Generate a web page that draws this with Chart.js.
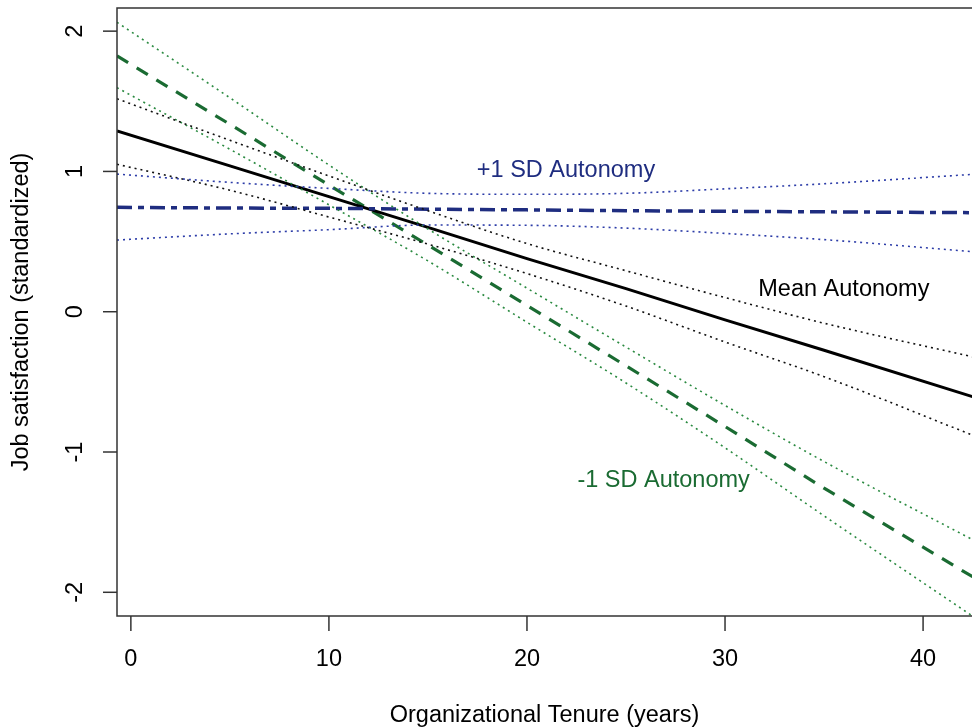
<!DOCTYPE html>
<html>
<head>
<meta charset="utf-8">
<script src="https://cdn.jsdelivr.net/npm/chart.js@4.4.1/dist/chart.umd.min.js"></script>
<style>
  html, body { margin: 0; padding: 0; background: #ffffff; overflow: hidden; }
  #wrap { width: 972px; height: 728px; }
</style>
</head>
<body>
<div id="wrap"><canvas id="c" width="972" height="728"></canvas></div>
<script>
// ---- Data ----
const tenure = [-0.7, 5, 10, 15, 20, 25, 30, 35, 42.5];

const highFit = [0.744, 0.739, 0.737, 0.731, 0.726, 0.720, 0.716, 0.712, 0.706];
const highUp  = [0.981, 0.922, 0.879, 0.844, 0.837, 0.844, 0.876, 0.912, 0.979];
const highLo  = [0.511, 0.555, 0.585, 0.618, 0.616, 0.596, 0.558, 0.514, 0.428];

const meanFit = [1.288, 1.040, 0.820, 0.601, 0.378, 0.165, -0.058, -0.275, -0.606];
const meanUp  = [1.518, 1.222, 0.968, 0.720, 0.486, 0.292, 0.101, -0.082, -0.321];
const meanLo  = [1.051, 0.866, 0.675, 0.482, 0.272, 0.040, -0.216, -0.463, -0.880];

const lowFit = [1.823, 1.336, 0.903, 0.475, 0.045, -0.386, -0.818, -1.258, -1.889];
const lowUp  = [2.063, 1.525, 1.046, 0.590, 0.168, -0.252, -0.668, -1.068, -1.625];
const lowLo  = [1.597, 1.158, 0.762, 0.362, -0.075, -0.508, -0.970, -1.455, -2.170];

const xTicks = [0, 10, 20, 30, 40];
const yTicks = [-2, -1, 0, 1, 2];

const seriesNames = ["+1 SD Autonomy", "Mean Autonomy", "-1 SD Autonomy"];
const xTitle = "Organizational Tenure (years)";
const yTitle = "Job satisfaction (standardized)";

// ---- Styling ----
const BLUE = '#1f2d80';
const GREEN = '#1a6b32';
const BLACK = '#000000';
const FONT = '"Liberation Sans", Arial, Helvetica, sans-serif';
const FS = 23.5;

// annotation anchors (data coordinates) for series labels
const labelAnchors = [
  { text: seriesNames[0], x: 21.97, y: 1.01, color: BLUE },
  { text: seriesNames[1], x: 36.0, y: 0.155, color: BLACK },
  { text: seriesNames[2], x: 26.9, y: -1.2, color: GREEN }
];

function pts(ys) { return tenure.map((x, i) => ({ x: x, y: ys[i] })); }

function bandDs(ys, color) {
  return { data: pts(ys), borderColor: color, borderWidth: 1.6, borderDash: [2, 4],
           pointRadius: 0, fill: false, cubicInterpolationMode: 'monotone' };
}

const datasets = [
  bandDs(highUp, '#2c3ca8'), bandDs(highLo, '#2c3ca8'),
  bandDs(meanUp, '#111111'), bandDs(meanLo, '#111111'),
  bandDs(lowUp, '#2a8a40'), bandDs(lowLo, '#2a8a40'),
  { data: pts(highFit), borderColor: BLUE, borderWidth: 3.5, borderDash: [15, 6, 6, 6],
    pointRadius: 0, fill: false },
  { data: pts(meanFit), borderColor: BLACK, borderWidth: 3, pointRadius: 0, fill: false },
  { data: pts(lowFit), borderColor: GREEN, borderWidth: 3.2, borderDash: [13, 10],
    pointRadius: 0, fill: false }
];

const axesPlugin = {
  id: 'rAxes',
  afterDraw(chart) {
    const ctx = chart.ctx;
    const a = chart.chartArea;
    const xs = chart.scales.x, ys = chart.scales.y;
    ctx.save();
    // box (right side lies outside the picture)
    ctx.strokeStyle = '#333333';
    ctx.lineWidth = 1.5;
    ctx.beginPath();
    ctx.moveTo(a.right + 2, a.top);
    ctx.lineTo(a.left, a.top);
    ctx.lineTo(a.left, a.bottom);
    ctx.lineTo(a.right + 2, a.bottom);
    ctx.stroke();
    // x ticks
    ctx.fillStyle = '#000';
    ctx.font = FS + 'px ' + FONT;
    ctx.textAlign = 'center';
    ctx.textBaseline = 'middle';
    xTicks.forEach(v => {
      const px = xs.getPixelForValue(v);
      ctx.beginPath();
      ctx.moveTo(px, a.bottom);
      ctx.lineTo(px, a.bottom + 15);
      ctx.stroke();
      ctx.fillText(String(v), px, 660);
    });
    // y ticks (labels parallel to axis)
    yTicks.forEach(v => {
      const py = ys.getPixelForValue(v);
      ctx.beginPath();
      ctx.moveTo(a.left, py);
      ctx.lineTo(a.left - 14, py);
      ctx.stroke();
      ctx.save();
      ctx.translate(76, py);
      ctx.rotate(-Math.PI / 2);
      ctx.fillText(String(v), 0, 0);
      ctx.restore();
    });
    // axis titles
    ctx.fillText(xTitle, (a.left + a.right) / 2, 716);
    ctx.save();
    ctx.translate(22, (a.top + a.bottom) / 2);
    ctx.rotate(-Math.PI / 2);
    ctx.fillText(yTitle, 0, 0);
    ctx.restore();
    // series labels
    labelAnchors.forEach(l => {
      ctx.fillStyle = l.color;
      ctx.fillText(l.text, xs.getPixelForValue(l.x), ys.getPixelForValue(l.y));
    });
    ctx.restore();
  }
};

new Chart(document.getElementById('c'), {
  type: 'line',
  data: { datasets: datasets },
  options: {
    responsive: false,
    animation: false,
    layout: { padding: { left: 117, top: 8, right: 0, bottom: 112 } },
    plugins: { legend: { display: false }, tooltip: { enabled: false } },
    scales: {
      x: { type: 'linear', min: -0.7, max: 42.47, display: false },
      y: { type: 'linear', min: -2.169, max: 2.165, display: false }
    }
  },
  plugins: [axesPlugin]
});
</script>
</body>
</html>
